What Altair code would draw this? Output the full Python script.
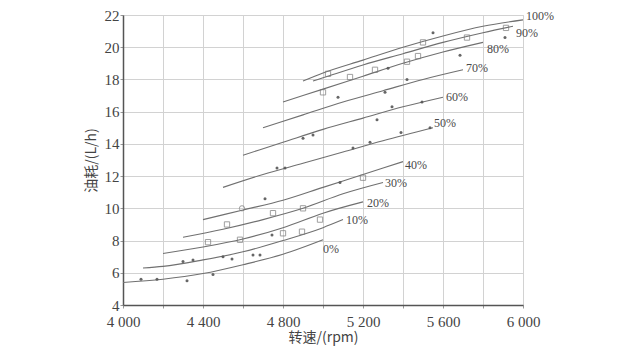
import altair as alt
import pandas as pd

# ---- curve data (rpm, fuel L/h) per load level ----
loads = ["0%", "10%", "20%", "30%", "40%", "50%", "60%", "70%", "80%", "90%", "100%"]
rpm_0 = [4000, 4200, 4400, 4600, 4800, 5000]
fuel_0 = [5.4, 5.6, 5.95, 6.5, 7.15, 8.05]
rpm_10 = [4100, 4200, 4400, 4600, 4800, 5000, 5100]
fuel_10 = [6.3, 6.4, 6.8, 7.3, 8.0, 8.8, 9.3]
rpm_20 = [4200, 4400, 4600, 4800, 5000, 5200]
fuel_20 = [7.2, 7.6, 8.1, 8.8, 9.7, 10.4]
rpm_30 = [4300, 4500, 4700, 4900, 5100, 5300]
fuel_30 = [8.2, 8.7, 9.3, 10.0, 10.9, 11.6]
rpm_40 = [4400, 4600, 4800, 5000, 5200, 5400]
fuel_40 = [9.3, 9.9, 10.5, 11.3, 12.1, 12.9]
rpm_50 = [4500, 4700, 4900, 5100, 5300, 5550]
fuel_50 = [11.3, 12.1, 12.8, 13.5, 14.2, 15.0]
rpm_60 = [4600, 4800, 5000, 5200, 5400, 5600]
fuel_60 = [13.3, 14.1, 14.9, 15.6, 16.3, 16.9]
rpm_70 = [4700, 4900, 5100, 5300, 5500, 5700]
fuel_70 = [15.0, 15.8, 16.6, 17.3, 18.0, 18.6]
rpm_80 = [4800, 5000, 5200, 5400, 5600, 5800]
fuel_80 = [16.6, 17.4, 18.2, 19.0, 19.7, 20.3]
rpm_90 = [4950, 5000, 5200, 5400, 5600, 5800, 5950]
fuel_90 = [17.9, 18.1, 18.9, 19.6, 20.3, 20.9, 21.3]
rpm_100 = [4900, 5000, 5200, 5400, 5600, 5800, 6000]
fuel_100 = [17.9, 18.4, 19.2, 20.0, 20.7, 21.3, 21.7]

# ---- measured points ----
pt_rpm = [4090, 4170, 4320, 4450,
          4300, 4350, 4500, 4545, 4650, 4685, 4895, 4985,
          4425, 4585, 4745, 4800,
          4520, 4750, 4900, 5200,
          4595, 4710, 5085,
          4770, 4810, 5150, 5235, 5390, 5535,
          4900, 4950, 5270, 5345, 5495,
          5075, 5310, 5420,
          5000, 5135, 5260, 5325, 5420, 5475, 5685, 5910,
          5025, 5720, 5915,
          5500, 5550]
pt_fuel = [5.6, 5.6, 5.5, 5.9,
           6.7, 6.8, 7.0, 6.85, 7.1, 7.1, 8.55, 9.3,
           7.9, 8.05, 8.35, 8.45,
           9.0, 9.7, 10.0, 11.9,
           10.0, 10.6, 11.6,
           12.5, 12.5, 13.75, 14.1, 14.7, 15.0,
           14.35, 14.55, 15.5, 16.3, 16.6,
           16.9, 17.2, 18.0,
           17.2, 18.15, 18.6, 18.7, 19.1, 19.45, 19.5, 20.6,
           18.35, 20.6, 21.2,
           20.3, 20.9]
pt_kind = ["dot"] * 4 + \
          ["dot"] * 6 + ["square"] * 2 + \
          ["square", "square", "dot", "square"] + \
          ["square"] * 4 + \
          ["circle", "dot", "dot"] + \
          ["dot"] * 6 + \
          ["dot"] * 5 + \
          ["dot"] * 3 + \
          ["square", "square", "square", "dot", "square", "square", "dot", "dot"] + \
          ["square"] * 3 + \
          ["square", "dot"]

# tick values of the axes
x_ticks = [4000, 4200, 4400, 4600, 4800, 5000, 5200, 5400, 5600, 5800, 6000]
y_ticks = [4, 6, 8, 10, 12, 14, 16, 18, 20, 22]

rpm_lists = [rpm_0, rpm_10, rpm_20, rpm_30, rpm_40, rpm_50, rpm_60, rpm_70, rpm_80, rpm_90, rpm_100]
fuel_lists = [fuel_0, fuel_10, fuel_20, fuel_30, fuel_40, fuel_50, fuel_60, fuel_70, fuel_80, fuel_90, fuel_100]

rows = []
for name, rs, fs in zip(loads, rpm_lists, fuel_lists):
    for i, (r, f) in enumerate(zip(rs, fs)):
        rows.append({"load": name, "rpm": r, "fuel": f, "order": i})
curves = pd.DataFrame(rows)
ends = pd.DataFrame([{"load": n, "rpm": rs[-1], "fuel": fs[-1]} for n, rs, fs in zip(loads, rpm_lists, fuel_lists)])
points = pd.DataFrame({"rpm": pt_rpm, "fuel": pt_fuel, "kind": pt_kind})

serif = "Liberation Serif"
cjk = "Noto Sans CJK SC"

xscale = alt.Scale(domain=[4000, 6000], nice=False, zero=False)
yscale = alt.Scale(domain=[4, 22], nice=False, zero=False)

x_axis = alt.Axis(values=x_ticks, title="转速/(rpm)",
                  labelExpr="datum.value % 400 == 0 ? slice(toString(datum.value),0,1) + ' ' + slice(toString(datum.value),1) : ''",
                  labelFont=serif, labelFontSize=15, labelColor="#444444", labelPadding=6, labelFlush=False,
                  titleFont=cjk, titleFontSize=14, titleFontWeight="normal", titleColor="#444444", titlePadding=1,
                  grid=True, gridColor="#d2d2d2", domainColor="#555555", domainWidth=1.5,
                  tickColor="#999999", tickSize=3, labelOverlap=False)
y_axis = alt.Axis(values=y_ticks, title="油耗/(L/h)",
                  labelFont=serif, labelFontSize=15, labelColor="#444444", labelPadding=1, labelFlush=False,
                  titleFont=cjk, titleFontSize=14, titleFontWeight="normal", titleColor="#444444", titlePadding=6,
                  grid=True, gridColor="#d2d2d2", domainColor="#555555", domainWidth=1.5,
                  tickColor="#999999", tickSize=3, labelOverlap=False)

X = alt.X("rpm:Q", scale=xscale, axis=x_axis)
Y = alt.Y("fuel:Q", scale=yscale, axis=y_axis)

lines = alt.Chart(curves).mark_line(color="#707070", strokeWidth=1.1, interpolate="monotone").encode(
    x=X, y=Y, detail="load:N", order="order:Q")

sq = alt.Chart(points).transform_filter("datum.kind == 'square'").mark_point(
    shape="square", size=28, filled=False, color="#777777", strokeWidth=1).encode(x=X, y=Y)
circ = alt.Chart(points).transform_filter("datum.kind == 'circle'").mark_point(
    shape="circle", size=28, filled=False, color="#777777", strokeWidth=1).encode(x=X, y=Y)
dots = alt.Chart(points).transform_filter("datum.kind == 'dot'").mark_point(
    shape="circle", size=9, filled=True, color="#555555", opacity=0.9).encode(x=X, y=Y)

# label offsets (style only)
label_offsets = {"0%": (0, 9), "10%": (3, 0), "20%": (4, 1), "30%": (2, 0), "40%": (2, 3),
                 "50%": (1, -5), "60%": (3, 0), "70%": (3, -2), "80%": (4, 7), "90%": (3, 7),
                 "100%": (3, -4)}
label_layers = []
for name in loads:
    dx, dy = label_offsets[name]
    label_layers.append(
        alt.Chart(ends).transform_filter(f"datum.load == '{name}'").mark_text(
            align="left", baseline="middle", dx=dx, dy=dy, font=serif, fontSize=12,
            color="#4a4a4a").encode(text="load:N", x=X, y=Y))

chart = alt.layer(lines, sq, circ, dots, *label_layers).properties(
    width=400, height=290,
    autosize=alt.AutoSizeParams(type="none"),
    padding={"left": 123, "top": 15, "right": 119, "bottom": 47},
    background="white",
).configure_view(stroke="#d2d2d2", strokeWidth=1)

chart.save("out.html", embed_options={"renderer": "svg", "actions": False})
